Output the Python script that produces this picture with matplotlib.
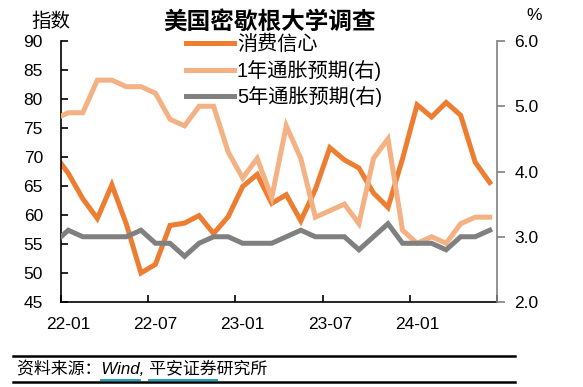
import numpy as np
import pandas as pd
import matplotlib
matplotlib.use('Agg')
import matplotlib.pyplot as plt

plt.rcParams['font.family'] = ['Liberation Sans', 'Noto Sans CJK SC', 'DejaVu Sans']

# 21-12 .. 24-06 (first month sits just outside the left edge and is clipped)
months = pd.period_range('2021-12', '2024-06', freq='M').strftime('%y-%m').tolist()

sentiment = [70.6,
             67.2, 62.8, 59.4, 65.2, 58.4, 50.0, 51.5, 58.2, 58.6, 59.9, 56.8, 59.7,
             64.9, 67.0, 62.0, 63.5, 59.0, 64.4, 71.6, 69.5, 68.1, 63.8, 61.3, 69.7,
             79.0, 76.9, 79.4, 77.2, 69.1, 65.6]
infl_1y = [4.8,
           4.9, 4.9, 5.4, 5.4, 5.3, 5.3, 5.2, 4.8, 4.7, 5.0, 5.0, 4.3,
           3.9, 4.2, 3.6, 4.7, 4.2, 3.3, 3.4, 3.5, 3.2, 4.2, 4.5, 3.1,
           2.9, 3.0, 2.9, 3.2, 3.3, 3.3]
infl_5y = [2.9,
           3.1, 3.0, 3.0, 3.0, 3.0, 3.1, 2.9, 2.9, 2.7, 2.9, 3.0, 3.0,
           2.9, 2.9, 2.9, 3.0, 3.1, 3.0, 3.0, 3.0, 2.8, 3.0, 3.2, 2.9,
           2.9, 2.9, 2.8, 3.0, 3.0, 3.1]
tick_months = ['22-01', '22-07', '23-01', '23-07', '24-01']

labels = ['消费信心', '1年通胀预期(右)', '5年通胀预期(右)']
colors = ['#ED7D31', '#F4B183', '#808080']

x = np.arange(len(months)) - 1  # 22-01 -> 0

W, H = 583, 387
fig = plt.figure(figsize=(W / 100, H / 100), dpi=100)
ax = fig.add_axes([61 / W, 1 - 302 / H, (497 - 61) / W, (302 - 41) / H])
ax2 = ax.twinx()

l1, = ax.plot(x, sentiment, color=colors[0], lw=3.6, solid_joinstyle='miter')
l2, = ax2.plot(x, infl_1y, color=colors[1], lw=3.6, solid_joinstyle='miter')
l3, = ax2.plot(x, infl_5y, color=colors[2], lw=3.6, solid_joinstyle='miter')

ax.set_xlim(-0.5, len(months) - 1.5)
ax.set_ylim(45, 90)
ax.set_yticks(np.arange(45, 91, 5))
ax2.set_ylim(2.0, 6.0)
ax2.set_yticks(np.arange(2.0, 6.01, 1.0))
ax2.set_yticklabels([f'{v:.1f}' for v in np.arange(2.0, 6.01, 1.0)])

pos = [months.index(m) - 1 for m in tick_months]
ax.set_xticks([p - 0.5 for p in pos] + [len(months) - 1.5])
ax.set_xticklabels([])
ax.set_xticks(pos, minor=True)
ax.set_xticklabels(tick_months, minor=True)
ax.tick_params(axis='x', which='major', direction='in', length=5, width=1.2, color='black')
ax.tick_params(axis='x', which='minor', length=0, pad=11, labelsize=12.5)
ax.tick_params(axis='y', direction='in', length=5, width=1.2, pad=13, labelsize=12.5)
ax2.tick_params(axis='y', direction='out', length=5.5, width=1.2, colors='#808080',
                labelcolor='black', pad=7, labelsize=12.5)

for s in ['top']:
    ax.spines[s].set_visible(False)
    ax2.spines[s].set_visible(False)
ax.spines['right'].set_visible(False)
ax2.spines['left'].set_visible(False)
ax2.spines['bottom'].set_visible(False)
ax.spines['left'].set_linewidth(1.2)
ax.spines['bottom'].set_linewidth(1.2)
ax2.spines['right'].set_linewidth(1.2)
ax2.spines['right'].set_color('#808080')

ax2.legend([l1, l2, l3], labels, loc='upper left', frameon=False,
           bbox_to_anchor=(186 / W, 1 - 35 / H), bbox_transform=fig.transFigure,
           borderpad=0, borderaxespad=0, handlelength=2.4, handletextpad=0.12,
           labelspacing=0.26, prop={'family': ['Liberation Sans', 'Noto Sans CJK SC'], 'size': 14.5})

fig.text(270 / W, 1 - 22 / H, '美国密歇根大学调查', ha='center', va='center',
         fontsize=17, fontweight='bold', family=['Noto Sans CJK SC'])
fig.text(51 / W, 1 - 21 / H, '指数', ha='center', va='center', fontsize=14,
         family=['Noto Sans CJK SC'])
fig.text(534 / W, 1 - 16 / H, '%', ha='center', va='center', fontsize=12.5)

# footer
fig.add_artist(plt.Line2D([13 / W, 515 / W], [1 - 356 / H] * 2, color='black', lw=1.8))
fig.add_artist(plt.Line2D([13 / W, 515 / W], [1 - 382 / H] * 2, color='black', lw=1.8))
src = '资料来源：Wind, 平安证券研究所'
fprops = dict(fontsize=12.2, style='italic', family=['Liberation Sans', 'Noto Sans CJK SC'])
t = fig.text(17 / W, 1 - 369 / H, src, ha='left', va='center', **fprops)

fig.canvas.draw()
r = fig.canvas.get_renderer()
def prefix_w(s):
    tt = fig.text(17 / W, 1 - 369 / H, s, ha='left', va='center', **fprops)
    w = tt.get_window_extent(r).x1
    tt.remove()
    return w / W
for a, b in [('资料来源：', '资料来源：Wind'), ('资料来源：Wind, ', '资料来源：Wind, 平安证券')]:
    fig.add_artist(plt.Line2D([prefix_w(a), prefix_w(b)], [1 - 379.5 / H] * 2,
                              color='#17A2C0', lw=1.4))

fig.savefig('out.png', dpi=100)
